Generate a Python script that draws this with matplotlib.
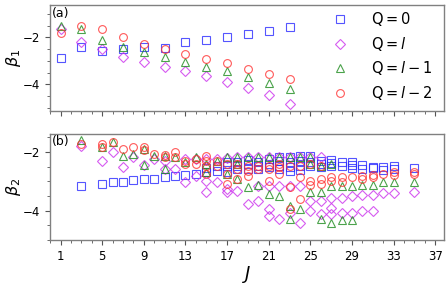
import matplotlib

matplotlib.use("Agg")
import matplotlib.pyplot as plt
from matplotlib.ticker import MultipleLocator

# panel (a): beta_1 vs J
j_top = [1, 3, 5, 7, 9, 11, 13, 15, 17, 19, 21, 23]
a_q0 = [-2.89, -2.43, -2.58, -2.50, -2.43, -2.47, -2.19, -2.11, -1.97, -1.87, -1.73, -1.55]
a_ql = [-1.62, -2.19, -2.51, -2.82, -3.04, -3.25, -3.43, -3.65, -3.89, -4.14, -4.46, -4.84]
a_ql1 = [-1.52, -1.62, -2.09, -2.40, -2.61, -2.82, -3.04, -3.25, -3.43, -3.70, -3.93, -4.21]
a_ql2 = [-1.79, -1.51, -1.62, -2.00, -2.26, -2.50, -2.71, -2.92, -3.11, -3.35, -3.56, -3.77]

# panel (b): beta_2 vs J (several states per J)
j_bot = [3, 5, 6, 7, 8, 9, 10, 11, 12, 13, 14, 15, 16, 17, 18, 19, 20, 21, 22,
         23, 24, 25, 26, 27, 28, 29, 30, 31, 32, 33, 35]
b_q0 = [[-3.16], [-3.10], [-3.04], [-3.04], [-2.96], [-2.93], [-2.91], [-2.85],
        [-2.83], [-2.79], [-2.76], [-2.70, -2.55], [-2.64, -2.47],
        [-2.70, -2.47, -2.36], [-2.59, -2.47, -2.36], [-2.59, -2.42, -2.27],
        [-2.59, -2.47, -2.36], [-2.53, -2.42, -2.25], [-2.59, -2.47, -2.30, -2.19],
        [-2.64, -2.53, -2.36, -2.19], [-2.61, -2.47, -2.30, -2.15],
        [-2.47, -2.34, -2.15], [-2.53, -2.42, -2.30], [-2.47, -2.38, -2.27],
        [-2.47, -2.36], [-2.56, -2.45, -2.36], [-2.59, -2.45], [-2.56, -2.50],
        [-2.61, -2.53], [-2.59, -2.47], [-2.56]]
b_ql = [[-1.79], [-2.30], [-2.00], [-2.53], [-2.18], [-2.46], [-2.25],
        [-2.30, -2.59], [-2.59], [-2.25, -3.04], [-2.25, -2.81],
        [-2.25, -2.99, -3.36], [-2.25, -3.04], [-2.22, -3.27, -3.38],
        [-2.19, -3.33], [-2.19, -3.78], [-2.19, -3.16, -3.67],
        [-2.19, -3.16, -3.95, -4.18], [-2.19, -3.16, -4.30], [-2.19, -3.16, -4.07],
        [-2.19, -3.16, -4.41], [-2.19, -3.67, -4.01], [-2.19, -3.67, -4.13],
        [-3.56, -3.90, -4.13], [-3.56, -4.07], [-3.50, -4.07], [-3.47, -4.01],
        [-3.47, -4.01], [-3.41], [-3.41], [-3.38]]
b_ql1 = [[-1.58], [-1.85], [-1.65], [-2.13], [-2.07], [-1.91, -2.45], [-2.13],
         [-2.13, -2.60], [-2.19], [-2.36], [-2.19], [-2.42, -2.70], [-2.30],
         [-2.19, -2.76], [-2.19, -2.42, -2.93], [-2.19, -3.21], [-2.19, -3.13],
         [-2.19, -3.44], [-2.19, -3.50], [-2.19, -3.84, -4.27], [-2.19, -3.95],
         [-2.19, -2.42, -3.36], [-2.47, -3.36, -4.30], [-2.42, -3.16, -4.41],
         [-3.16, -4.32], [-3.16, -4.32], [-3.13], [-3.13], [-3.02], [-3.02], [-3.02]]
b_ql2 = [[-1.74], [-1.73, -1.85], [-1.68], [-1.90], [-1.85], [-1.85, -1.93], [-2.07],
         [-2.10, -2.19], [-2.02, -2.19], [-2.30, -2.42], [-2.25, -2.42],
         [-2.13, -2.30, -2.47, -2.76], [-2.30, -2.47], [-2.42, -2.76, -3.10],
         [-2.42, -2.59, -2.93], [-2.47, -2.64, -2.81], [-2.47, -2.59],
         [-2.47, -2.59, -2.99], [-2.42, -2.53, -2.76], [-2.47, -3.21, -3.95],
         [-2.47, -2.87, -3.61], [-2.42, -2.99, -3.13], [-2.47, -2.93, -3.10],
         [-2.87, -2.99], [-2.87, -3.04], [-2.87], [-2.81, -2.93], [-2.79, -2.87],
         [-2.76], [-2.70, -2.79], [-2.70, -2.76]]

labels = [r"$\mathrm{Q}=0$", r"$\mathrm{Q}=l$", r"$\mathrm{Q}=l-1$", r"$\mathrm{Q}=l-2$"]
styles = [
    dict(marker="s", color="#2b2bff", ms=5.4),
    dict(marker="D", color="#cc33ee", ms=5.4),
    dict(marker="^", color="#1e8c1e", ms=5.6),
    dict(marker="o", color="#ff3030", ms=5.6),
]


def flatten(js, groups):
    xs, ys = [], []
    for j, vals in zip(js, groups):
        for v in vals:
            xs.append(j)
            ys.append(v)
    return xs, ys


def draw(ax, x, y, st, label=None):
    ax.plot(x, y, ls="none", marker=st["marker"], ms=st["ms"], mfc="none",
            mec=st["color"], mew=0.8, alpha=0.8, label=label)


fig = plt.figure(figsize=(4.48, 2.85), dpi=100)
ax1 = fig.add_axes([0.112, 0.61, 0.878, 0.372])
ax2 = fig.add_axes([0.112, 0.158, 0.878, 0.373])

for st, lab, vals in zip(styles, labels, [a_q0, a_ql, a_ql1, a_ql2]):
    draw(ax1, j_top, vals, st, lab)

for st, groups in zip(styles, [b_q0, b_ql, b_ql1, b_ql2]):
    x, y = flatten(j_bot, groups)
    draw(ax2, x, y, st)

ax1.set_ylim(-5.15, -0.62)
ax2.set_ylim(-5.0, -1.38)
for ax in (ax1, ax2):
    ax.set_xlim(0, 37.8)
    ax.set_xticks(range(1, 38, 4))
    ax.xaxis.set_minor_locator(MultipleLocator(1))
    ax.yaxis.set_major_locator(MultipleLocator(2))
    ax.yaxis.set_minor_locator(MultipleLocator(0.5))
    ax.tick_params(which="major", length=3.5, width=0.8, labelsize=8.5, color="#555555")
    ax.tick_params(which="minor", length=2, width=0.6, color="#555555")
    for sp in ax.spines.values():
        sp.set_color("#808080")
        sp.set_linewidth(1.0)

ax1.tick_params(labelbottom=False)
ax1.set_ylabel(r"$\beta_1$", fontsize=11.5)
ax2.set_ylabel(r"$\beta_2$", fontsize=11.5)
ax1.yaxis.set_label_coords(-0.068, 0.5)
ax2.yaxis.set_label_coords(-0.068, 0.5)
ax2.set_xlabel(r"$J$", fontsize=13, labelpad=1)

ax1.text(0.005, 0.985, "(a)", transform=ax1.transAxes, fontsize=9, va="top", ha="left")
ax2.text(0.005, 0.985, "(b)", transform=ax2.transAxes, fontsize=9, va="top", ha="left")

ax1.legend(loc="upper left", bbox_to_anchor=(0.686, 1.08), frameon=False,
           fontsize=10.5, handletextpad=1.6, labelspacing=0.47,
           handlelength=1.0, borderpad=0.4)

fig.savefig("out.png", dpi=100)
